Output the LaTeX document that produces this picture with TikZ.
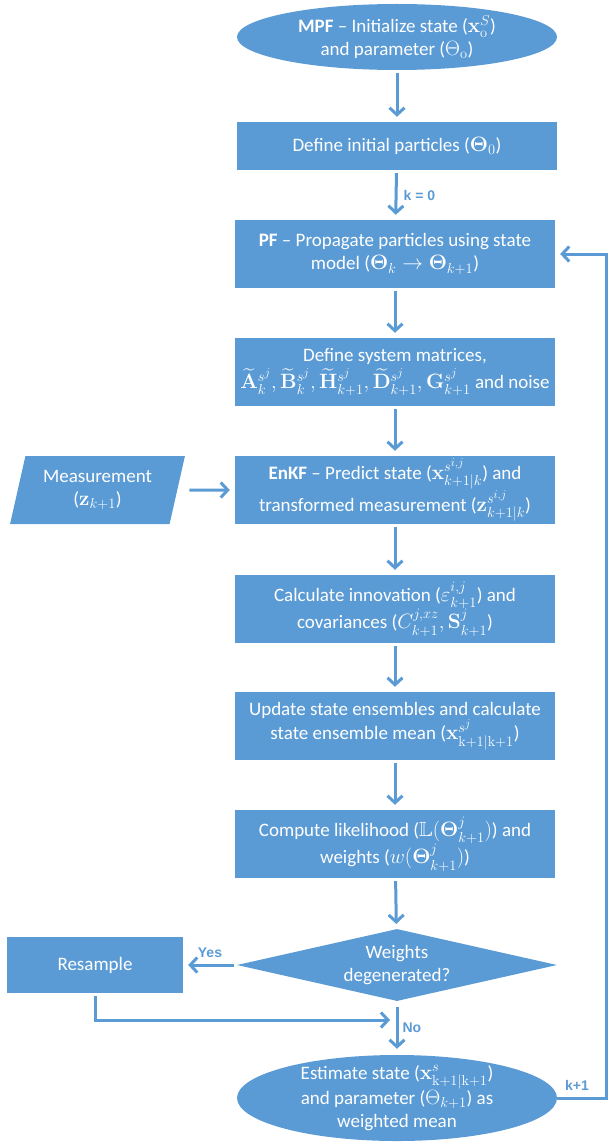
\documentclass[tikz,border=0pt]{standalone}
\usepackage{amsmath,amssymb}
\usepackage[no-math]{fontspec}
\setmainfont{Carlito}
\newfontfamily\lblfont{Liberation Sans}
\usetikzlibrary{shapes.geometric,arrows.meta}
\definecolor{fb}{RGB}{91,155,213}
\DeclareMathSizes{19}{20.5}{14.5}{11.5}
\begin{document}
\begin{tikzpicture}[x=1pt,y=-1pt,
  base/.style={fill=fb, draw=none, text=white, inner sep=0pt, align=center, font=\fontsize{19}{23}\selectfont},
  box/.style={base, rectangle, minimum width=320pt, minimum height=68pt},
  oval/.style={base, ellipse, minimum width=320pt},
  arr/.style={draw=fb, line width=3pt, shorten <=3pt, shorten >=5pt, -{Straight Barb[length=7pt,width=15pt]}},
  lbl/.style={text=fb, font=\lblfont\bfseries\fontsize{14}{14}\selectfont, inner sep=2pt}]
\useasboundingbox (0,0) rectangle (608,1142);
\node[oval, minimum height=66pt] (mpf) at (397,37) {\textbf{MPF} -- Initialize state ($\mathbf{x}^{S}_{\mathrm{o}}$)\\and parameter ($\Theta_{\mathrm{o}}$)};
\node[box, minimum height=48pt] (init) at (397,146) {Define initial particles ($\mathbf{\Theta}_0$)};
\node[box] (pf) at (395,254) {\textbf{PF} -- Propagate particles using state\\model ($\mathbf{\Theta}_k \rightarrow \mathbf{\Theta}_{k+1}$)};
\node[box] (sys) at (395,372) {Define system matrices,\\[3pt]$\widetilde{\mathbf{A}}^{s^j}_k, \widetilde{\mathbf{B}}^{s^j}_k, \widetilde{\mathbf{H}}^{s^j}_{k+1}, \widetilde{\mathbf{D}}^{s^j}_{k+1}, \mathbf{G}^{s^j}_{k+1}$ and noise};
\node[box] (enkf) at (395,490) {\textbf{EnKF} -- Predict state ($\mathbf{x}^{s^{i,j}}_{k+1|k}$) and\\transformed measurement ($\mathbf{z}^{s^{i,j}}_{k+1|k}$)};
\node[base, trapezium, trapezium left angle=73.6, trapezium right angle=106.4, trapezium stretches=true, minimum width=175pt, minimum height=68pt] (meas) at (97.5,490) {Measurement\\($\mathbf{z}_{k+1}$)};
\node[box] (calc) at (395,609) {Calculate innovation ($\varepsilon^{i,j}_{k+1}$) and\\covariances ($C^{j,xz}_{k+1}, \mathbf{S}^{j}_{k+1}$)};
\node[box] (upd) at (395,726) {Update state ensembles and calculate\\state ensemble mean ($\mathbf{x}^{s^j}_{\mathrm{k+1|k+1}}$)};
\node[box] (comp) at (395,844) {Compute likelihood ($\mathbb{L}(\mathbf{\Theta}^{j}_{k+1})$) and\\weights ($w(\mathbf{\Theta}^{j}_{k+1})$)};
\node[base, diamond, aspect=4.4, minimum width=320pt, minimum height=72pt] (deg) at (397,965) {Weights\\degenerated?};
\node[base, rectangle, minimum width=176pt, minimum height=56pt] (res) at (95,965) {Resample};
\node[oval, minimum height=86pt, inner ysep=-7pt] (est) at (397,1098) {Estimate state ($\mathbf{x}^{s}_{\mathrm{k+1|k+1}}$)\\and parameter ($\Theta_{k+1}$) as\\weighted mean};
\coordinate (join) at (393,1020);
\coordinate (loopc) at (606,1098);
\draw[arr] (mpf) -- (init);
\draw[arr] (init) -- node[lbl, right, xshift=4pt] (k0) {k = 0} (pf);
\draw[arr] (pf) -- (sys);
\draw[arr] (sys) -- (enkf);
\draw[arr, shorten <=12pt] (meas.east) -- (enkf.west);
\draw[arr] (enkf) -- (calc);
\draw[arr] (calc) -- (upd);
\draw[arr] (upd) -- (comp);
\draw[arr] (comp) -- (deg);
\draw[arr] (deg) -- node[lbl, above, yshift=4pt] (yes) {Yes} (res);
\draw[arr, shorten <=6pt, shorten >=6pt] (deg) -- node[lbl, right, xshift=2pt] (no) {No} (est);
\draw[arr, shorten >=3pt] (res.south) |- (join);
\draw[arr, shorten <=0pt] (est.east) -- (loopc) |- (pf.east);
\node[lbl] (kp1) at (577,1085) {k+1};
\end{tikzpicture}
\end{document}
